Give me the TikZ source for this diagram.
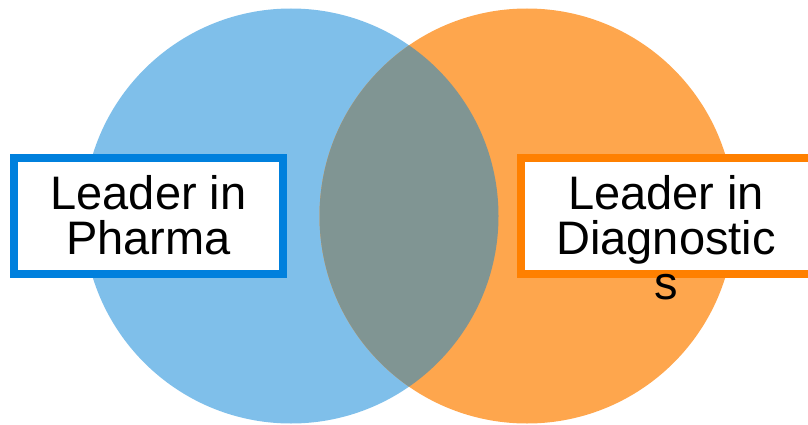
\documentclass[tikz,border=0pt]{standalone}
\usepackage{fontspec}
\setmainfont{Liberation Sans}
\usetikzlibrary{calc}

\definecolor{pharmablue}{RGB}{127,191,234}
\definecolor{pharmaline}{RGB}{0,128,221}
\definecolor{diagorange}{RGB}{254,166,77}
\definecolor{diagline}{RGB}{255,128,0}
\definecolor{overlapgray}{RGB}{128,149,147}

\begin{document}
\begin{tikzpicture}[x=1pt, y=-1pt,
  set/.style={circle, minimum size=415pt, inner sep=0pt},
  labelbox/.style={draw, line width=8pt, fill=white, inner sep=0pt, minimum height=116pt},
  labeltext/.style={align=center, inner sep=0pt, anchor=north, font=\fontsize{47}{45}\selectfont}]
  \useasboundingbox (0,0) rectangle (808,425);
  \coordinate (A) at (291,216);
  \coordinate (B) at ($(A) + (236, 0)$) ;
  \coordinate (C) at ($(A) + (-142.5, 0)$) ;
  \coordinate (D) at ($(B) + (144, 0)$) ;
  % the two sets
  \node[set, fill=pharmablue] (pharma) at (A) {};
  \node[set, fill=diagorange] (diag) at (B) {};
  \begin{scope}
    \clip (pharma.center) circle (207.5pt);
    \fill[overlapgray] (diag.center) circle (207.5pt);
  \end{scope}
  % labels
  \node[labelbox, draw=pharmaline, minimum width=269pt] (pharmabox) at (C) {};
  \node[labelbox, draw=diagline, minimum width=300pt] (diagbox) at (D) {};
  \node[labeltext] (pharmatext) at ($(pharmabox.center) + (0, -41)$) {Leader in\\Pharma};
  \node[labeltext] (diagtext) at ($(diagbox.center) + (-5, -41)$) {Leader in\\Diagnostic\\s};
\end{tikzpicture}
\end{document}
